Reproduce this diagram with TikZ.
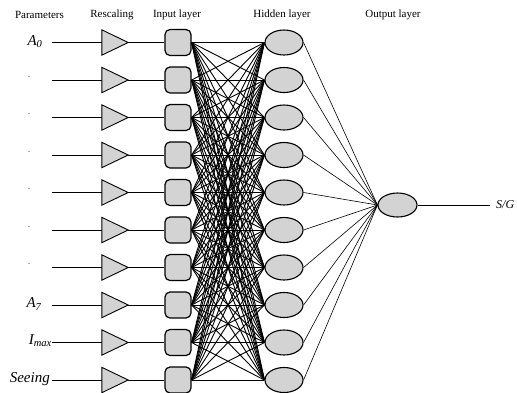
\documentclass[tikz,border=0pt]{standalone}
\usepackage{fontspec}
\setmainfont{Liberation Serif}
\usetikzlibrary{shapes.geometric}
\definecolor{lightg}{RGB}{211,211,211}
\begin{document}
\begin{tikzpicture}[x=1pt,y=-1pt,
  hdr/.style={font=\fontsize{11}{13}\selectfont, inner sep=0pt},
  lbl/.style={font=\fontsize{15}{17}\selectfont\itshape, inner sep=0pt},
  dotlbl/.style={font=\fontsize{10}{12}\selectfont, inner sep=0pt, text=black!70},
  inbox/.style={draw, line width=1.2pt, fill=lightg, rounded corners=5pt, minimum width=26pt, minimum height=26pt, inner sep=0pt},
  hid/.style={ellipse, draw, line width=1.1pt, fill=lightg, minimum width=38pt, minimum height=25pt, inner sep=0pt},
  tribox/.style={minimum width=26pt, minimum height=25pt, inner sep=0pt},
  triline/.style={draw, line width=0.9pt, fill=lightg},
  wire/.style={line width=0.8pt},
  mesh/.style={line width=0.9pt},
  outwire/.style={line width=0.6pt},
]
\useasboundingbox (0,0) rectangle (517,392);
\clip (0,0) rectangle (517,392);

% headers
\node[hdr] (hp) at (39.5,15) {Parameters};
\node[hdr] (hr) at (112,15) {Rescaling};
\node[hdr] (hi) at (177,15) {Input layer};
\node[hdr] (hh) at (282,15) {Hidden layer};
\node[hdr] (ho) at (393,15) {Output layer};

% parameter labels
\node[lbl] (p0) at (35,42) {A\textsubscript{0}};
\foreach \i in {1,...,6}{
  \node[dotlbl] (p\i) at (29,{42.5+37.5*\i-3}) {.};
}
\node[lbl] (p7) at (34,304) {A\textsubscript{7}};
\node[lbl, anchor=east] (p8) at (52,341) {I\textsubscript{max}};
\node[lbl, anchor=east] (p9) at (50,379) {Seeing};

% rows
\foreach \i in {0,...,9}{
  \pgfmathsetmacro{\yy}{42.5+37.5*\i}
  \coordinate (w\i) at (52,\yy);
  \node[tribox] (t\i) at (115,\yy) {};
  \node[inbox] (in\i) at (178,\yy) {};
  \node[hid] (h\i) at (284,\yy) {};
  \draw[wire] (w\i) -- (t\i.west);
  \draw[triline] (t\i.north west) -- (t\i.east) -- (t\i.south west) -- cycle;
  \draw[wire] (t\i.east) -- (in\i.west);
}

% output
\node[hid, minimum width=39pt, minimum height=24pt] (out) at (397.5,205) {};
\node[font=\fontsize{12}{14}\selectfont\itshape, anchor=west, inner xsep=6pt, inner ysep=0pt] (sg) at (490,205) {S/G};

% connections
\foreach \i in {0,...,9}{
  \foreach \j in {0,...,9}{
    \draw[mesh] (in\i.east) -- (h\j.west);
  }
  \draw[outwire] (h\i.east) -- (out.west);
}
\draw[wire] (out.east) -- (sg.west);
\end{tikzpicture}
\end{document}
